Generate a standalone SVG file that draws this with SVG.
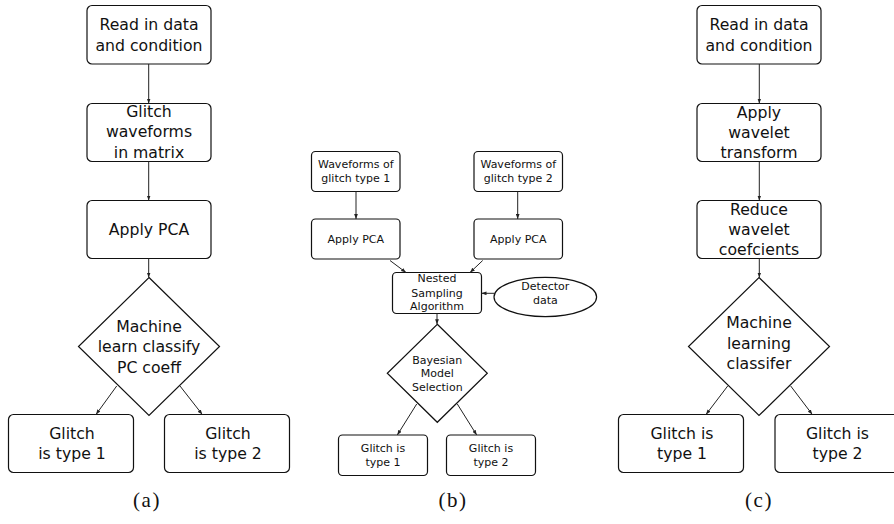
<svg xmlns="http://www.w3.org/2000/svg" width="894" height="524" viewBox="0 0 894 524">
<style>
.box{fill:#fff;stroke:#111;stroke-width:1.2}
.t{font-family:"DejaVu Sans",sans-serif;fill:#111;text-anchor:middle}
.L{font-size:15.7px}
.S{font-size:11px}
.cap{font-family:"Liberation Serif","DejaVu Serif",serif;font-size:21px;fill:#111;text-anchor:middle;letter-spacing:1.5px}
.c{fill:none;stroke:#222;stroke-width:1;marker-end:url(#ah)}
</style>
<defs>
<marker id="ah" viewBox="0 0 8 6" refX="8" refY="3" markerWidth="5" markerHeight="4" markerUnits="userSpaceOnUse" orient="auto">
<path d="M0,0 L8,3 L0,6 z" fill="#222"/>
</marker>
</defs>
<rect width="894" height="524" fill="#fff"/>

<!-- Panel a -->
<g id="a_read"><rect class="box" x="87" y="5.5" width="124" height="58.5" rx="5"/><text class="t L" x="149" y="30">Read in data</text><text class="t L" x="149" y="50.5">and condition</text></g>
<g id="a_glitch"><rect class="box" x="87" y="103.5" width="124" height="58" rx="5"/><text class="t L" x="149" y="116.5">Glitch</text><text class="t L" x="149" y="137">waveforms</text><text class="t L" x="149" y="157.5">in matrix</text></g>
<g id="a_pca"><rect class="box" x="87" y="200.5" width="124" height="58" rx="5"/><text class="t L" x="149" y="234.5">Apply PCA</text></g>
<g id="a_ml"><polygon class="box" points="149,277.5 219.5,346.5 149,415.5 78.5,346.5"/><text class="t L" x="149" y="331.5">Machine</text><text class="t L" x="149" y="352">learn classify</text><text class="t L" x="149" y="372.5">PC coeff</text></g>
<g id="a_t1"><rect class="box" x="8.5" y="414.5" width="125" height="58" rx="5"/><text class="t L" x="72" y="438.5">Glitch</text><text class="t L" x="72" y="458.5">is type 1</text></g>
<g id="a_t2"><rect class="box" x="164.5" y="414.5" width="125" height="58" rx="5"/><text class="t L" x="228" y="438.5">Glitch</text><text class="t L" x="228" y="458.5">is type 2</text></g>

<!-- Panel b -->
<g id="b_w1"><rect class="box" x="311.5" y="151.5" width="88.5" height="40" rx="4"/><text class="t S" x="355.8" y="168.3">Waveforms of</text><text class="t S" x="355.8" y="181.7">glitch type 1</text></g>
<g id="b_w2"><rect class="box" x="474" y="151.5" width="88.5" height="40" rx="4"/><text class="t S" x="518.3" y="168.3">Waveforms of</text><text class="t S" x="518.3" y="181.7">glitch type 2</text></g>
<g id="b_pca1"><rect class="box" x="311.5" y="219" width="88.5" height="40" rx="4"/><text class="t S" x="355.8" y="242.5">Apply PCA</text></g>
<g id="b_pca2"><rect class="box" x="474" y="219" width="88.5" height="40" rx="4"/><text class="t S" x="518.3" y="242.5">Apply PCA</text></g>
<g id="b_ns"><rect class="box" x="392.5" y="272.5" width="89" height="41" rx="4"/><text class="t S" x="437" y="282">Nested</text><text class="t S" x="437" y="296.5">Sampling</text><text class="t S" x="437" y="310">Algorithm</text></g>
<g id="b_det"><ellipse class="box" cx="545.3" cy="297" rx="51.3" ry="19.7"/><text class="t S" x="545.3" y="289.5">Detector</text><text class="t S" x="545.3" y="303.5">data</text></g>
<g id="b_bms"><polygon class="box" points="437.3,324.3 487.3,373.3 437.3,422.3 387.3,373.3"/><text class="t S" x="437.3" y="363.5">Bayesian</text><text class="t S" x="437.3" y="377">Model</text><text class="t S" x="437.3" y="390.5">Selection</text></g>
<g id="b_t1"><rect class="box" x="338.5" y="435" width="89" height="40.5" rx="4"/><text class="t S" x="383" y="451.7">Glitch is</text><text class="t S" x="383" y="466">type 1</text></g>
<g id="b_t2"><rect class="box" x="446.5" y="435" width="89" height="40.5" rx="4"/><text class="t S" x="491" y="451.7">Glitch is</text><text class="t S" x="491" y="466">type 2</text></g>

<!-- Panel c -->
<g id="c_read"><rect class="box" x="697" y="5.5" width="124" height="58.5" rx="5"/><text class="t L" x="759" y="30">Read in data</text><text class="t L" x="759" y="50.5">and condition</text></g>
<g id="c_wt"><rect class="box" x="697" y="103.5" width="124" height="58" rx="5"/><text class="t L" x="759" y="118">Apply</text><text class="t L" x="759" y="137.5">wavelet</text><text class="t L" x="759" y="157.5">transform</text></g>
<g id="c_red"><rect class="box" x="697" y="200.5" width="124" height="58" rx="5"/><text class="t L" x="759" y="214.5">Reduce</text><text class="t L" x="759" y="234.5">wavelet</text><text class="t L" x="759" y="254.5">coefcients</text></g>
<g id="c_ml"><polygon class="box" points="759,277.5 829.5,346.5 759,415.5 688.5,346.5"/><text class="t L" x="759" y="327.5">Machine</text><text class="t L" x="759" y="348.5">learning</text><text class="t L" x="759" y="369">classifer</text></g>
<g id="c_t1"><rect class="box" x="618.5" y="414.5" width="125" height="58" rx="5"/><text class="t L" x="682" y="438.5">Glitch is</text><text class="t L" x="682" y="458.5">type 1</text></g>
<g id="c_t2"><rect class="box" x="775" y="414.5" width="125" height="58" rx="5"/><text class="t L" x="837.5" y="438.5">Glitch is</text><text class="t L" x="837.5" y="458.5">type 2</text></g>

<g id="connectors">
<path class="c" d="M148.7,64 V103.5"/>
<path class="c" d="M148.7,161.5 V200.5"/>
<path class="c" d="M148.7,258.5 V277.5"/>
<path class="c" d="M116.7,386 L96,414.5"/>
<path class="c" d="M180,386 L202.3,414.5"/>
<path class="c" d="M356,191.5 V219"/>
<path class="c" d="M517.7,191.5 V219"/>
<path class="c" d="M390,260.5 L406,272.5"/>
<path class="c" d="M482.7,260.5 L470,272.5"/>
<path class="c" d="M494,293.3 H481.5"/>
<path class="c" d="M437,313.5 V324.3"/>
<path class="c" d="M416.7,404 L397.3,435"/>
<path class="c" d="M457.3,404 L476.7,435"/>
<path class="c" d="M759.3,64 V103.5"/>
<path class="c" d="M759.3,161.5 V200.5"/>
<path class="c" d="M759.3,258.5 V277.5"/>
<path class="c" d="M727.7,386 L706,414.5"/>
<path class="c" d="M790.7,386 L812.3,414.5"/>
</g>

<text class="cap" x="147" y="507">(a)</text>
<text class="cap" x="453" y="507">(b)</text>
<text class="cap" x="759" y="507">(c)</text>
</svg>
